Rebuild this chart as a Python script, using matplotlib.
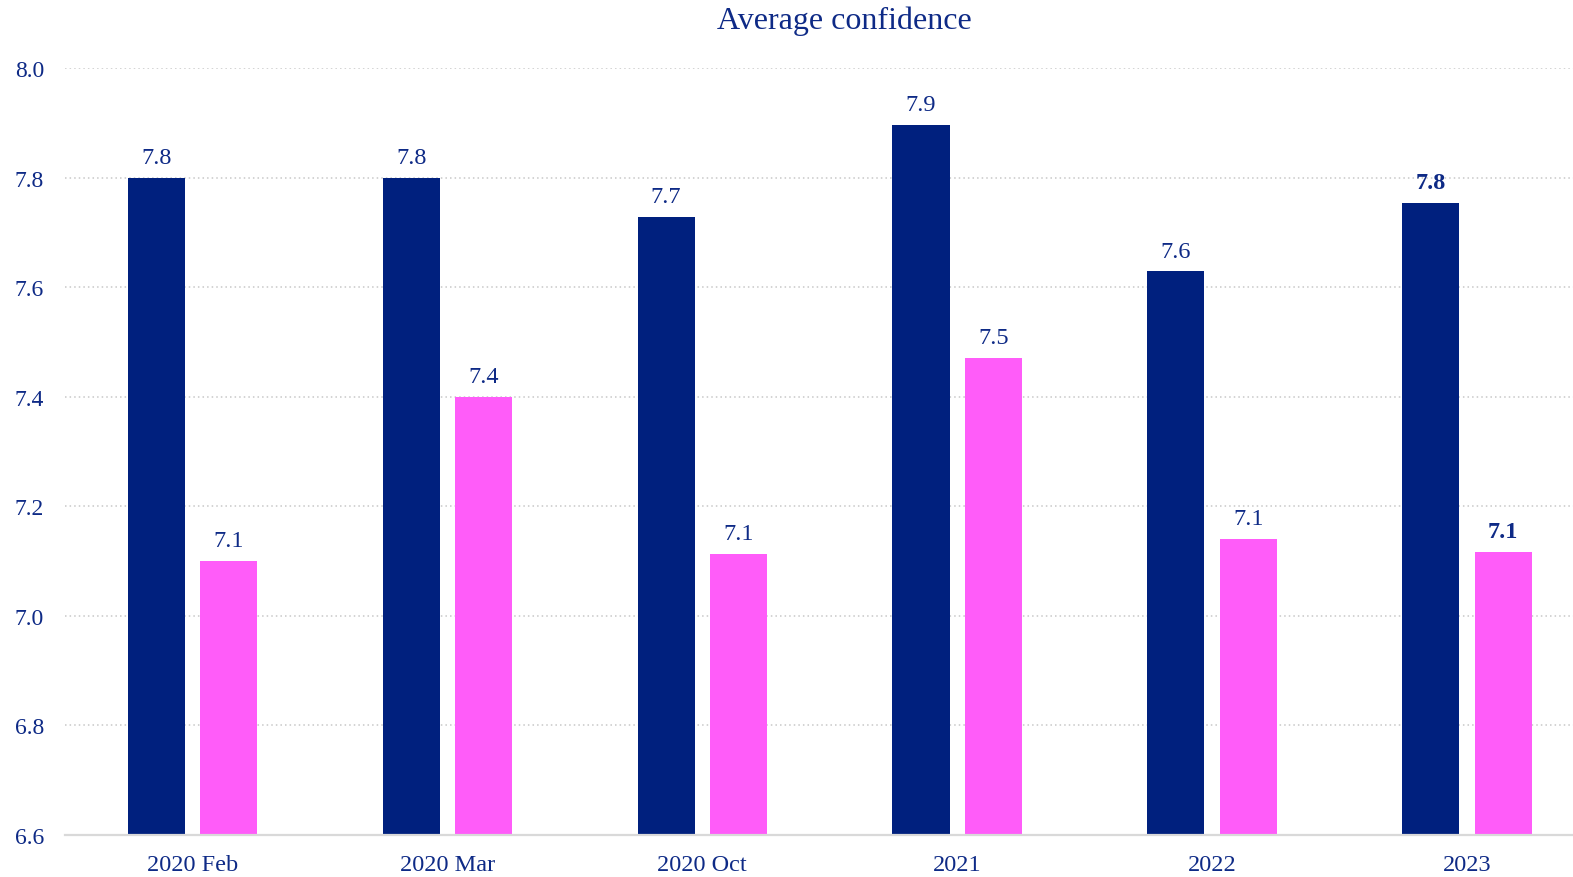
import matplotlib.pyplot as plt
import numpy as np

categories = ["2020 Feb", "2020 Mar", "2020 Oct", "2021", "2022", "2023"]
series_a = [7.80, 7.80, 7.728, 7.896, 7.629, 7.754]
series_b = [7.10, 7.40, 7.113, 7.471, 7.140, 7.117]
y_ticks = [6.6, 6.8, 7.0, 7.2, 7.4, 7.6, 7.8, 8.0]

NAVY = "#00207E"
PINK = "#FF5CF9"
TEXT = "#0E2A86"

plt.rcParams["font.family"] = ["Liberation Serif", "DejaVu Serif"]

W, H = 1573, 878
fig = plt.figure(figsize=(W / 100, H / 100), dpi=100)
left, right, top, bottom = 65, 1594.5, 69, 836
ax = fig.add_axes([left / W, 1 - bottom / H, (right - left) / W, (bottom - top) / H])

x = np.arange(len(categories))
width = 0.224
off = 0.142
bars_a = ax.bar(x - off, series_a, width, color=NAVY, zorder=3)
bars_b = ax.bar(x + off, series_b, width, color=PINK, zorder=3)

ax.set_xlim(-0.5, len(categories) - 0.5)
ax.set_ylim(6.6, 8.0)
ax.set_yticks(y_ticks)
ax.set_yticklabels([f"{t:.1f}" for t in y_ticks])
ax.set_xticks(x)
ax.set_xticklabels(categories)
ax.tick_params(axis="y", length=0, labelsize=17, labelcolor=TEXT, pad=15)
ax.tick_params(axis="x", length=0, labelsize=17.5, labelcolor=TEXT, pad=13.5)

ax.grid(axis="y", linestyle=(0, (1, 2)), color="#C8C8C8", linewidth=1.1, zorder=0)
for side in ("top", "right", "left"):
    ax.spines[side].set_visible(False)
ax.spines["bottom"].set_color("#D9D9D9")
ax.spines["bottom"].set_linewidth(1.6)
ax.spines["bottom"].set_zorder(4)

last = len(categories) - 1
for bars, vals in ((bars_a, series_a), (bars_b, series_b)):
    for i, (rect, v) in enumerate(zip(bars, vals)):
        ax.annotate(f"{v:.1f}", (rect.get_x() + rect.get_width() / 2, v),
                    xytext=(0, 7), textcoords="offset points",
                    ha="center", va="bottom", fontsize=17.5, color=TEXT,
                    fontweight="bold" if i == last else "normal", annotation_clip=False)

fig.text(844 / W, 1 - 21 / H, "Average confidence", ha="center", va="center",
         fontsize=23, color=TEXT)

fig.savefig("out.png", dpi=100, facecolor="white")
